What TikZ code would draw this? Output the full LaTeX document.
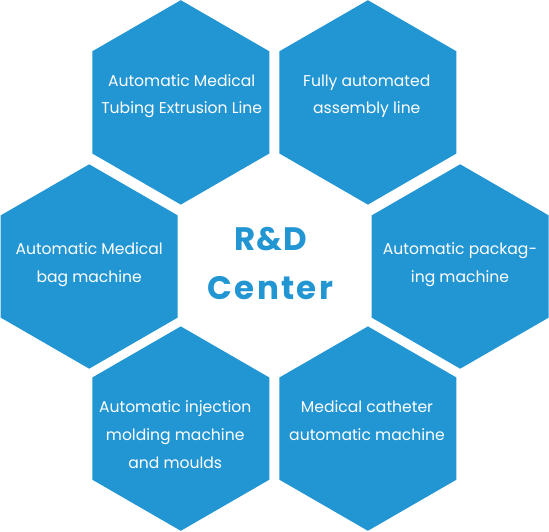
\documentclass[tikz,border=0pt]{standalone}
\usepackage{fontspec}
\setmainfont{Poppins}
\usetikzlibrary{shapes.geometric}
\definecolor{hexblue}{RGB}{34,149,211}
\begin{document}
\begin{tikzpicture}[x=1pt,y=1pt,
  hexagon/.style={regular polygon, regular polygon sides=6, shape border rotate=30,
    minimum size=204.4pt, inner sep=0pt, outer sep=0pt, fill=hexblue, draw=none},
  lbl/.style={text=white, font=\fontsize{15.6}{28}\selectfont, align=center,
    anchor=base, inner sep=0pt},
  title/.style={text=hexblue, font=\fontsize{32.5}{48.3}\selectfont\bfseries,
    align=center, anchor=base, inner sep=0pt}]
\useasboundingbox (0,0) rectangle (549,-532);
\node[hexagon] (tl) at (180.8,-102.4) {};
\node[hexagon] (tr) at (367.9,-102.4) {};
\node[hexagon] (l)  at (89.2,-266.5) {};
\node[hexagon] (r)  at (460.2,-266.5) {};
\node[hexagon] (bl) at (180.8,-428.6) {};
\node[hexagon] (br) at (367.9,-428.6) {};
\node[lbl] (tltext) at (181.7,-114) {Automatic Medical\\Tubing Extrusion Line};
\node[lbl] (trtext) at (366.8,-114) {Fully automated\\assembly line};
\node[lbl] (ltext)  at (89.2,-282.3) {Automatic Medical\\bag machine};
\node[lbl] (rtext)  at (460,-282.3) {Automatic packag-\\ing machine};
\node[lbl] (bltext) at (175.2,-468.5) {Automatic injection\\molding machine\\and moulds};
\node[lbl] (brtext) at (367,-440.2) {Medical catheter\\automatic machine};
\node[title] (center) at (270.5,-299) {\addfontfeature{LetterSpace=3}R\&D\\\addfontfeature{LetterSpace=7}Center};
\end{tikzpicture}
\end{document}
